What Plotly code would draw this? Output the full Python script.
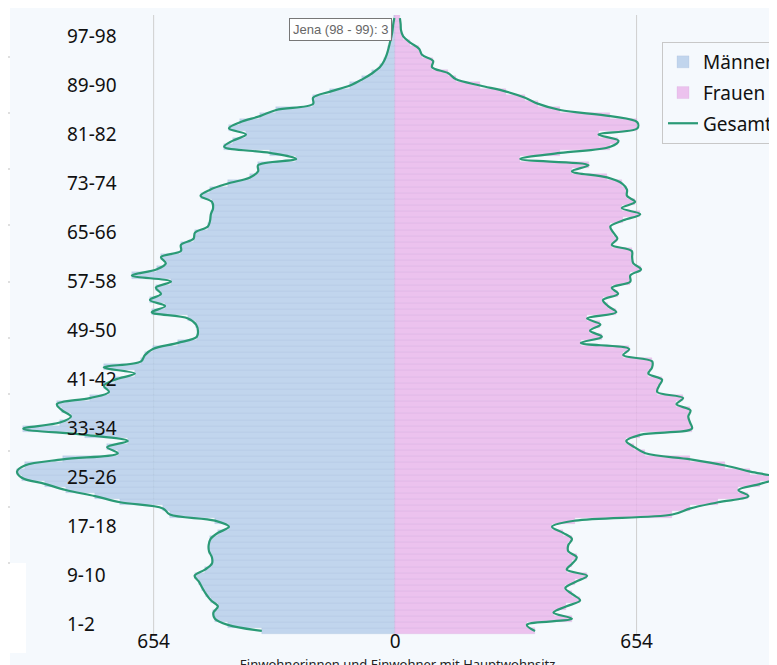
import plotly.graph_objects as go

# ---------------- data ----------------
age_groups = [f"{a}-{a+1}" for a in range(100)] + ["100+"]

maenner = [361, 453, 488, 492, 480, 499, 512, 522, 531, 543,
           515, 496, 496, 504, 505, 500, 480, 450, 488, 610,
           629, 745, 813, 892, 949, 1011, 1024, 1003, 900, 751,
           780, 724, 840, 1007, 908, 878, 902, 916, 827, 775,
           789, 759, 705, 789, 688, 678, 656, 588, 537, 534,
           539, 561, 659, 623, 664, 634, 648, 607, 713, 645,
           621, 634, 580, 580, 546, 542, 507, 501, 499, 493,
           496, 527, 501, 453, 393, 371, 371, 268, 339, 463,
           439, 404, 450, 420, 366, 322, 222, 222, 176, 122,
           89, 62, 41, 30, 23, 18, 14, 10, 7, 5, 2]

frauen = [379, 357, 479, 429, 463, 501, 480, 461, 488, 520,
          465, 480, 492, 469, 469, 479, 455, 425, 488, 751,
          800, 875, 957, 930, 989, 1034, 962, 894, 800, 678,
          648, 626, 664, 804, 799, 794, 800, 762, 780, 710,
          715, 723, 686, 696, 696, 618, 634, 503, 560, 528,
          556, 520, 599, 577, 563, 604, 587, 637, 637, 666,
          645, 642, 641, 587, 602, 591, 583, 618, 664, 614,
          650, 628, 628, 615, 574, 479, 524, 339, 447, 583,
          605, 551, 656, 656, 583, 447, 388, 352, 301, 230,
          165, 144, 100, 103, 73, 65, 41, 22, 16, 15, 13]

shown_age_ticks = age_groups[1:98:8]
x_tick_vals = [-654, 0, 654]
x_tick_text = ["654", "0", "654"]
grid_vals = [-654, 654]

# ---------------- styling ----------------
W, H = 777, 665
OFF = 8                      # page body margin offset of the figure
ML, MR, MT, MB = 2, 0, 7, 31
PW, PH = W - ML - MR, H - MT - MB
CAT_PX = 6.129               # pixel height of one age band
Y_TOP = len(age_groups) - 0.5
Y_BOTTOM = Y_TOP - PH / CAT_PX
BG = "#f5f9fd"
FONT = "Noto Sans"
GREEN = "#2a9a76"


def px_x(p):
    return (p - OFF - ML) / PW


def px_y(p):
    return 1 - (p - OFF - MT) / PH


fig = go.Figure()

fig.add_trace(go.Bar(
    y=age_groups, x=[-v for v in maenner], orientation="h", name="Männer",
    marker=dict(color="rgba(183,207,234,0.85)",
                line=dict(color="rgba(150,175,210,0.35)", width=0.5)),
    customdata=maenner, hovertemplate="Jena (%{y}): %{customdata}<extra></extra>",
    legendgroup="m"))

fig.add_trace(go.Bar(
    y=age_groups, x=frauen, orientation="h", name="Frauen",
    marker=dict(color="rgba(234,184,235,0.85)",
                line=dict(color="rgba(205,150,210,0.35)", width=0.5)),
    hovertemplate="Jena (%{y}): %{x}<extra></extra>",
    legendgroup="f"))

fig.add_trace(go.Scatter(
    y=age_groups, x=[-v for v in maenner], mode="lines", name="Gesamt",
    line=dict(color=GREEN, width=2.2, shape="spline", smoothing=1.0),
    legendgroup="g", showlegend=True, hoverinfo="skip"))

fig.add_trace(go.Scatter(
    y=age_groups, x=frauen, mode="lines", name="Gesamt",
    line=dict(color=GREEN, width=2.2, shape="spline", smoothing=1.0),
    legendgroup="g", showlegend=False, hoverinfo="skip"))

shapes = []
# vertical grid lines at the labelled +/- ticks
for gv in grid_vals:
    shapes.append(dict(type="line", xref="x", yref="y", layer="below",
                       x0=gv, x1=gv, y0=-0.5, y1=Y_TOP,
                       line=dict(color="#cfcfcf", width=1)))
# white page parts around the chart panel
shapes.append(dict(type="rect", xref="paper", yref="paper", layer="below",
                   x0=px_x(0), x1=px_x(10), y0=px_y(H + 20), y1=px_y(-5),
                   fillcolor="white", line=dict(width=0)))
shapes.append(dict(type="rect", xref="paper", yref="paper", layer="below",
                   x0=px_x(0), x1=px_x(26), y0=px_y(653), y1=px_y(563),
                   fillcolor="white", line=dict(width=0)))
for yy in [57, 113, 169, 225, 282, 338, 394, 451, 507, 563]:
    shapes.append(dict(type="line", xref="paper", yref="paper", layer="below",
                       x0=px_x(0), x1=px_x(10), y0=px_y(yy), y1=px_y(yy),
                       line=dict(color="#d4d4d4", width=1.5)))

annotations = [
    dict(text="Jena (98 - 99): 3", xref="paper", yref="paper",
         x=px_x(340), y=px_y(29.5), xanchor="center", yanchor="middle",
         showarrow=False, font=dict(family="Liberation Sans", size=13, color="#666666"),
         bgcolor="rgba(255,255,255,0.9)", bordercolor="#777777", borderwidth=1, borderpad=3),
]

fig.update_layout(
    width=W, height=H,
    margin=dict(l=ML, r=MR, t=MT, b=MB, autoexpand=False),
    paper_bgcolor=BG, plot_bgcolor="rgba(0,0,0,0)",
    barmode="overlay", bargap=0,
    font=dict(family=FONT, color="#111111"),
    showlegend=True,
    legend=dict(x=px_x(662), y=px_y(42), xanchor="left", yanchor="top",
                bgcolor=BG, bordercolor="#c8c8c8", borderwidth=1,
                font=dict(family=FONT, size=19, color="#111111"),
                traceorder="grouped", tracegroupgap=3),
    xaxis=dict(range=[-1043, 1056], tickvals=x_tick_vals, ticktext=x_tick_text,
               showgrid=False, zeroline=False,
               showline=False, ticks="", ticklabelstandoff=-14,
               tickfont=dict(family=FONT, size=19, color="#111111"),
               title=dict(text="Einwohnerinnen und Einwohner mit Hauptwohnsitz",
                          font=dict(family=FONT, size=13, color="#222222"), standoff=9),
               automargin=False, fixedrange=True),
    yaxis=dict(type="category", categoryorder="array", categoryarray=age_groups,
               range=[Y_BOTTOM, Y_TOP],
               tickvals=shown_age_ticks, ticktext=shown_age_ticks,
               ticklabelposition="inside", ticklabelstandoff=54, ticks="",
               showgrid=False, zeroline=False, showline=False,
               tickfont=dict(family=FONT, size=19, color="#111111"),
               automargin=False, fixedrange=True),
    shapes=shapes, annotations=annotations,
)

fig.write_html("out.html")
